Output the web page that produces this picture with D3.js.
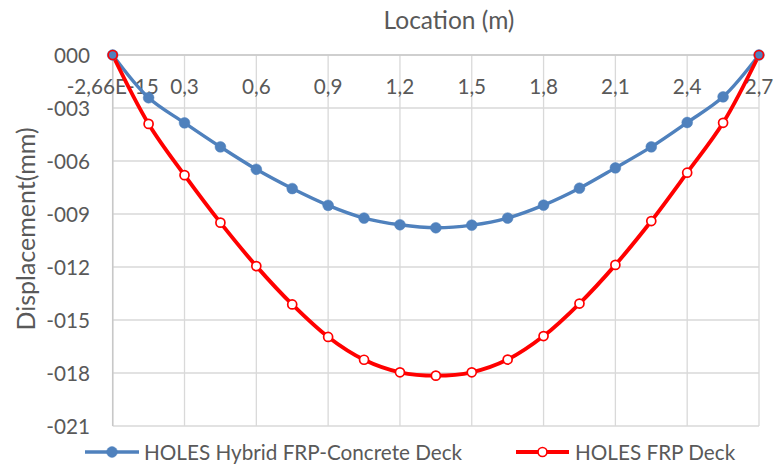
<!DOCTYPE html>
<html>
<head>
<meta charset="utf-8">
<script src="https://cdn.jsdelivr.net/npm/d3@7"></script>
<style>
  html, body { margin: 0; padding: 0; background: #fff; }
  svg text { font-family: Lato, "Open Sans", sans-serif; fill: #595959; }
</style>
</head>
<body>
<svg id="chart" width="776" height="465"></svg>
<script>
const locations = [0, 0.15, 0.3, 0.45, 0.6, 0.75, 0.9, 1.05, 1.2, 1.35, 1.5, 1.65, 1.8, 1.95, 2.1, 2.25, 2.4, 2.55, 2.7];
const hybridDeck = [0, -2.42, -3.84, -5.2, -6.47, -7.56, -8.51, -9.23, -9.61, -9.78, -9.63, -9.23, -8.5, -7.54, -6.39, -5.2, -3.82, -2.37, 0];
const frpDeck = [0, -3.9, -6.8, -9.49, -11.95, -14.12, -15.96, -17.25, -17.96, -18.15, -17.96, -17.24, -15.91, -14.07, -11.88, -9.4, -6.66, -3.84, 0];
const seriesNames = ["HOLES Hybrid FRP-Concrete Deck", "HOLES FRP Deck"];
const xTickValues = [0, 0.3, 0.6, 0.9, 1.2, 1.5, 1.8, 2.1, 2.4, 2.7];
const xTickLabels = ["-2,66E-15", "0,3", "0,6", "0,9", "1,2", "1,5", "1,8", "2,1", "2,4", "2,7"];
const yTickValues = [0, -3, -6, -9, -12, -15, -18, -21];
const yTickLabels = ["000", "-003", "-006", "-009", "-012", "-015", "-018", "-021"];
const xTitle = "Location (m)";
const yTitle = "Displacement(mm)";

const svg = d3.select("#chart");
const m = { left: 112.7, right: 759, top: 55, bottom: 426 };
const x = d3.scaleLinear().domain([0, 2.7]).range([m.left, m.right]);
const y = d3.scaleLinear().domain([0, -21]).range([m.top, m.bottom]);
const gridColor = "#d9d9d9";
const fs = 20.7;

// gridlines
const g = svg.append("g");
g.selectAll(".vg").data(xTickValues).join("line")
  .attr("x1", d => x(d)).attr("x2", d => x(d))
  .attr("y1", m.top).attr("y2", m.bottom)
  .attr("stroke", gridColor).attr("stroke-width", 1.3);
g.selectAll(".hg").data(yTickValues).join("line")
  .attr("x1", m.left).attr("x2", m.right)
  .attr("y1", d => y(d)).attr("y2", d => y(d))
  .attr("stroke", gridColor).attr("stroke-width", 1.3);
// axis lines
g.append("line").attr("x1", m.left).attr("x2", m.right).attr("y1", m.top).attr("y2", m.top)
  .attr("stroke", "#c8c8c8").attr("stroke-width", 1.5);
g.append("line").attr("x1", m.left).attr("x2", m.left).attr("y1", m.top).attr("y2", m.bottom)
  .attr("stroke", "#c8c8c8").attr("stroke-width", 1.5);

// x tick labels (top axis, placed below the axis line)
svg.append("g").selectAll("text").data(xTickValues).join("text")
  .attr("x", d => x(d)).attr("y", 86)
  .attr("text-anchor", "middle").attr("dominant-baseline", "central")
  .attr("font-size", fs)
  .text((d, i) => xTickLabels[i]);

// y tick labels
svg.append("g").selectAll("text").data(yTickValues).join("text")
  .attr("x", 90).attr("y", d => y(d))
  .attr("text-anchor", "end").attr("dominant-baseline", "central")
  .attr("font-size", fs)
  .text((d, i) => yTickLabels[i]);

// titles
svg.append("text").attr("x", 449).attr("y", 19)
  .attr("text-anchor", "middle").attr("dominant-baseline", "central")
  .attr("font-size", 24.5).text(xTitle);
svg.append("text").attr("transform", "translate(25,229) rotate(-90)")
  .attr("text-anchor", "middle").attr("dominant-baseline", "central")
  .attr("font-size", 25).text(yTitle);

// lines
const line = d3.line().x(d => x(d[0])).y(d => y(d[1])).curve(d3.curveCatmullRom.alpha(0.5));
const blue = "#4f81bd", red = "#ff0000";
const hybridPts = locations.map((l, i) => [l, hybridDeck[i]]);
const frpPts = locations.map((l, i) => [l, frpDeck[i]]);

svg.append("path").datum(hybridPts).attr("d", line)
  .attr("fill", "none").attr("stroke", blue).attr("stroke-width", 3.4).attr("stroke-linejoin", "round");
svg.append("path").datum(frpPts).attr("d", line)
  .attr("fill", "none").attr("stroke", red).attr("stroke-width", 3.9).attr("stroke-linejoin", "round");

svg.append("g").selectAll("circle").data(hybridPts).join("circle")
  .attr("cx", d => x(d[0])).attr("cy", d => y(d[1])).attr("r", 5.4)
  .attr("fill", blue).attr("stroke", blue).attr("stroke-width", 0.5);
svg.append("g").selectAll("circle").data(frpPts).join("circle")
  .attr("cx", d => x(d[0])).attr("cy", d => y(d[1])).attr("r", 4.5)
  .attr("fill", "#fff").attr("fill-opacity", d => (d[0] === 0 || d[0] === 2.7) ? 0 : 1)
  .attr("stroke", red).attr("stroke-width", 1.7);

// legend
const legend = [
  { name: seriesNames[0], color: blue, x1: 85, x2: 139, text: 144, filled: true },
  { name: seriesNames[1], color: red, x1: 516, x2: 569, text: 575, filled: false }
];
const ly = 452;
legend.forEach(l => {
  svg.append("line").attr("x1", l.x1).attr("x2", l.x2).attr("y1", ly).attr("y2", ly)
    .attr("stroke", l.color).attr("stroke-width", l.filled ? 3.4 : 3.9);
  svg.append("circle").attr("cx", (l.x1 + l.x2) / 2).attr("cy", ly).attr("r", l.filled ? 5.4 : 4.5)
    .attr("fill", l.filled ? l.color : "#fff").attr("stroke", l.color).attr("stroke-width", l.filled ? 0.5 : 1.7);
  svg.append("text").attr("x", l.text).attr("y", ly).attr("dominant-baseline", "central")
    .attr("font-size", fs).text(l.name);
});
</script>
</body>
</html>
